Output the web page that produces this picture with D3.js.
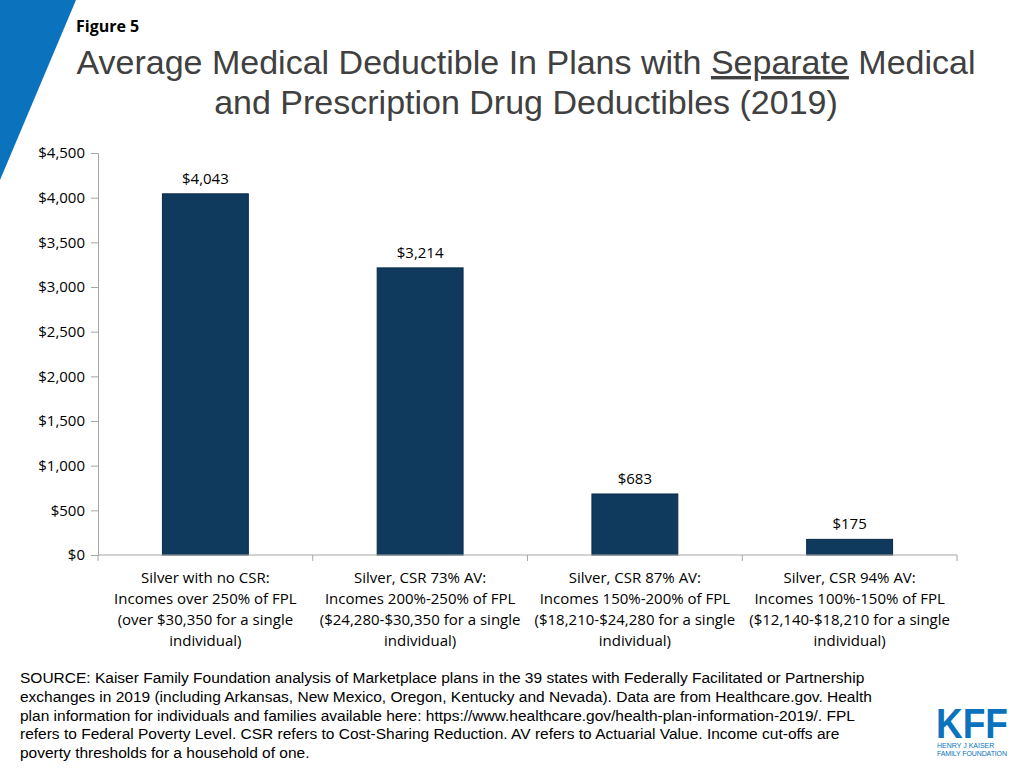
<!DOCTYPE html>
<html lang="en">
<head>
<meta charset="UTF-8">
<title>Average Medical Deductible</title>
<script src="https://d3js.org/d3.v7.min.js"></script>
<style>
  body { margin: 0; background: #fff; }
  svg { display: block; }
</style>
</head>
<body>
<script>
// chart data
const categories = ["noCSR", "csr73", "csr87", "csr94"];
const categoryLabels = [
  ["Silver with no CSR:", "Incomes over 250% of FPL", "(over $30,350 for a single", "individual)"],
  ["Silver, CSR 73% AV:", "Incomes 200%-250% of FPL", "($24,280-$30,350 for a single", "individual)"],
  ["Silver, CSR 87% AV:", "Incomes 150%-200% of FPL", "($18,210-$24,280 for a single", "individual)"],
  ["Silver, CSR 94% AV:", "Incomes 100%-150% of FPL", "($12,140-$18,210 for a single", "individual)"]
];
const deductibles = [4043, 3214, 683, 175];
const yTicks = [0, 500, 1000, 1500, 2000, 2500, 3000, 3500, 4000, 4500];

const sourceLines = [
  "SOURCE: Kaiser Family Foundation analysis of Marketplace plans in the 39 states with Federally Facilitated or Partnership",
  "exchanges in 2019 (including Arkansas, New Mexico, Oregon, Kentucky and Nevada). Data are from Healthcare.gov. Health",
  "plan information for individuals and families available here: https://www.healthcare.gov/health-plan-information-2019/. FPL",
  "refers to Federal Poverty Level. CSR refers to Cost-Sharing Reduction. AV refers to Actuarial Value. Income cut-offs are",
  "poverty thresholds for a household of one."
];

const width = 1024, height = 768;
const svg = d3.select("body").append("svg")
  .attr("width", width)
  .attr("height", height);

// blue corner shape
svg.append("path")
  .attr("d", "M0,0 L76,0 L0,180 Z")
  .attr("fill", "#0b72bd");

// headings
svg.append("text")
  .attr("x", 76).attr("y", 32)
  .attr("font-family", "'Open Sans', sans-serif")
  .attr("font-weight", "bold")
  .attr("font-size", 16)
  .attr("fill", "#000")
  .text("Figure 5");

const title = svg.append("text")
  .attr("x", 526).attr("y", 74)
  .attr("text-anchor", "middle")
  .attr("font-family", "'Liberation Sans', Arial, sans-serif")
  .attr("font-size", 34)
  .attr("fill", "#404040");
title.append("tspan").text("Average Medical Deductible In Plans with ");
title.append("tspan").attr("text-decoration", "underline").text("Separate");
title.append("tspan").text(" Medical");

svg.append("text")
  .attr("x", 526).attr("y", 114)
  .attr("text-anchor", "middle")
  .attr("font-family", "'Liberation Sans', Arial, sans-serif")
  .attr("font-size", 34)
  .attr("fill", "#404040")
  .text("and Prescription Drug Deductibles (2019)");

// scales
const margin = { left: 98, right: 957, top: 153, bottom: 555 };
const x = d3.scaleBand()
  .domain(categories)
  .range([margin.left, margin.right])
  .paddingInner(0.6)
  .paddingOuter(0.3);

const y = d3.scaleLinear()
  .domain([0, 4500])
  .range([margin.bottom, margin.top]);

const fmt = d3.format("$,");

// y axis
const yAxis = svg.append("g")
  .attr("transform", `translate(${margin.left},0)`)
  .call(d3.axisLeft(y).tickValues(yTicks).tickFormat(fmt).tickSize(7).tickPadding(6));
yAxis.select(".domain").attr("stroke", "#a6a6a6");
yAxis.selectAll(".tick line").attr("stroke", "#a6a6a6");
yAxis.selectAll(".tick text")
  .attr("font-family", "'Open Sans', sans-serif")
  .attr("font-size", 15)
  .attr("fill", "#000");

// bars
svg.append("g").selectAll("rect")
  .data(deductibles)
  .join("rect")
  .attr("x", (d, i) => x(categories[i]))
  .attr("y", d => y(d))
  .attr("width", x.bandwidth())
  .attr("height", d => y(0) - y(d))
  .attr("fill", "#0f3a5e")
  .attr("stroke", "#0a2a45")
  .attr("stroke-width", 1);

// value labels
svg.append("g").selectAll("text")
  .data(deductibles)
  .join("text")
  .attr("x", (d, i) => x(categories[i]) + x.bandwidth() / 2)
  .attr("y", d => y(d) - 10)
  .attr("text-anchor", "middle")
  .attr("font-family", "'Open Sans', sans-serif")
  .attr("font-size", 15)
  .attr("fill", "#000")
  .text(d => fmt(d));

// x axis with boundary ticks
const step = (margin.right - margin.left) / categories.length;
const xAxisG = svg.append("g");
xAxisG.append("line")
  .attr("x1", margin.left).attr("x2", margin.right)
  .attr("y1", y(0)).attr("y2", y(0))
  .attr("stroke", "#a6a6a6");
xAxisG.selectAll("line.tick")
  .data(d3.range(categories.length + 1))
  .join("line")
  .attr("class", "tick")
  .attr("x1", i => margin.left + i * step)
  .attr("x2", i => margin.left + i * step)
  .attr("y1", y(0)).attr("y2", y(0) + 6)
  .attr("stroke", "#a6a6a6");

// category labels
const catG = svg.append("g").selectAll("text")
  .data(categoryLabels)
  .join("text")
  .attr("text-anchor", "middle")
  .attr("font-family", "'Open Sans', sans-serif")
  .attr("font-size", 15)
  .attr("fill", "#000");
catG.selectAll("tspan")
  .data((d, i) => d.map(line => ({ line, i })))
  .join("tspan")
  .attr("x", d => x(categories[d.i]) + x.bandwidth() / 2)
  .attr("y", (d, j) => 583 + j * 21)
  .text(d => d.line);

// source note
svg.append("g").selectAll("text")
  .data(sourceLines)
  .join("text")
  .attr("x", 20)
  .attr("y", (d, i) => 683 + i * 18.8)
  .attr("font-family", "'Liberation Sans', Arial, sans-serif")
  .attr("font-size", 15.5)
  .attr("fill", "#000")
  .text(d => d);

// KFF logo
svg.append("text")
  .attr("x", 936).attr("y", 738)
  .attr("font-family", "'Liberation Sans', Arial, sans-serif")
  .attr("font-weight", "bold")
  .attr("font-size", 42)
  .attr("textLength", 72)
  .attr("lengthAdjust", "spacingAndGlyphs")
  .attr("fill", "#0b72bd")
  .text("KFF");
svg.append("text")
  .attr("x", 937).attr("y", 748)
  .attr("font-family", "'Liberation Sans', Arial, sans-serif")
  .attr("font-size", 7)
  .attr("fill", "#0b72bd")
  .text("HENRY J KAISER");
svg.append("text")
  .attr("x", 937).attr("y", 756)
  .attr("font-family", "'Liberation Sans', Arial, sans-serif")
  .attr("font-size", 7)
  .attr("textLength", 70)
  .attr("fill", "#0b72bd")
  .text("FAMILY FOUNDATION");
</script>
</body>
</html>
